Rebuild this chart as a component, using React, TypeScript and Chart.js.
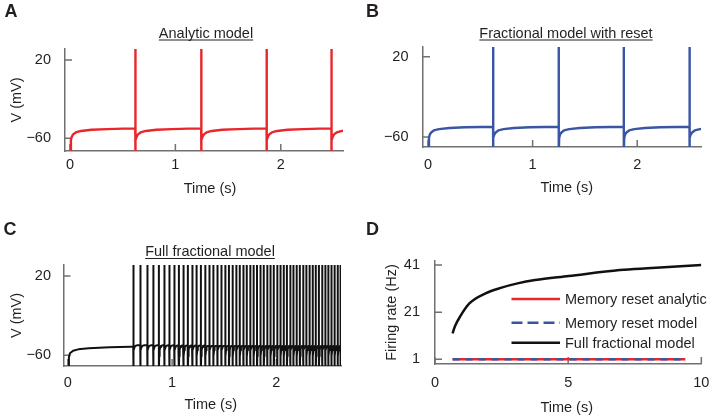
import React, { useEffect, useRef } from "react";
import { Chart, registerables } from "chart.js";

Chart.register(...registerables);

const FONT = "'Liberation Sans', Arial, Helvetica, sans-serif";
const FS = 14.5;
const TEXT = "#231f20";
const AXIS = "#707070";
const RED = "#e8262b";
const BLUE = "#3a55a4";
const BLACK = "#111111";

// ---------- Panels A / B ----------
const voltTicks = [-60, 20];
const timeTicks = [0, 1, 2];
const spikeTimesA = [0.62, 1.245, 1.865, 2.48];
const spikeTimesB = [0.622, 1.25, 1.872, 2.5];
// membrane recovery after each reset: time since reset (s) and voltage (mV)
const recoveryOffsets = [0, 0.004, 0.012, 0.025, 0.05, 0.1, 0.2, 0.35, 0.5, 0.7];
const recoveryVoltsA = [-76, -62, -58.5, -56, -54, -52.5, -51.3, -50.6, -50.1, -49.8];
const recoveryVoltsB = [-76, -61, -57.5, -55.5, -53.5, -52.2, -51, -50.3, -50, -49.7];
const SPIKE_PEAK = 45;

// ---------- Panel C ----------
const initialTimesC = [0.005, 0.01, 0.02, 0.05, 0.1, 0.2, 0.4, 0.6];
const initialVoltsC = [-76, -62, -58, -55.5, -54, -53, -52, -51.5];
const recoveryOffsetsC = [0, 0.003, 0.007, 0.012, 0.02, 0.04, 0.08];
const recoveryVoltsC = [-76, -61, -55, -52, -50.5, -49.8, -49.5];
const spikeTimesC = [
  0.627, 0.694, 0.761, 0.818, 0.873, 0.924, 0.972, 1.02, 1.065, 1.109, 1.151,
  1.193, 1.234, 1.276, 1.318, 1.356, 1.395, 1.433, 1.471, 1.51, 1.545, 1.58,
  1.614, 1.648, 1.682, 1.715, 1.748, 1.781, 1.814, 1.847, 1.879, 1.911, 1.943,
  1.975, 2.007, 2.039, 2.07, 2.101, 2.132, 2.163, 2.194, 2.225, 2.256, 2.287,
  2.318, 2.348, 2.378, 2.408, 2.438, 2.468, 2.498, 2.528, 2.558, 2.588, 2.615,
];

// ---------- Panel D ----------
const rateTicks = [1, 21, 41];
const longTimeTicks = [0, 5, 10];
const fullTimes = [0.66, 0.75, 0.94, 1.3, 1.9, 2.5, 3.1, 3.76, 5.02, 6.94, 8.14, 10];
const fullRates = [12, 15, 19.1, 24.8, 29, 31.4, 33.2, 34.6, 36.3, 38.9, 39.7, 41];
const resetTimes = [0.66, 9.4];
const analyticRates = [1, 1];
const modelRates = [1, 1];
const legendLabels = ["Memory reset analytic", "Memory reset model", "Full fractional model"];
const timeAxisTitle = "Time (s)";

type Pt = { x: number; y: number };

// Assemble a voltage trace: each segment (a recovery curve from the given
// start) is followed by a vertical spike at the next spike time.
function buildTrace(
  starts: number[],
  spikes: number[],
  offs: number[],
  volts: number[],
  end: number
) {
  const pts: Pt[] = [];
  for (let i = 0; i < starts.length; i++) {
    const s = starts[i];
    const next = i < spikes.length ? spikes[i] : end;
    let last = volts[0];
    for (let j = 0; j < offs.length; j++) {
      const t = s + offs[j];
      if (t >= next) break;
      pts.push({ x: t, y: volts[j] });
      last = volts[j];
    }
    if (i < spikes.length) {
      pts.push({ x: spikes[i], y: last });
      pts.push({ x: spikes[i], y: SPIKE_PEAK });
    }
  }
  return pts;
}

function zipPts(xs: number[], ys: number[]) {
  return xs.map((x, i) => ({ x, y: ys[i] }));
}

const fmtNum = (v: number) => (v < 0 ? "\u2212" + Math.abs(v) : String(v));

type Spec = {
  letter: string;
  letterPos: [number, number];
  title?: string;
  titlePos?: [number, number, number];
  xTitlePos: [number, number];
  area: { left: number; top: number; right: number; bottom: number };
  padLeft: number;
  xBoxBottom: number;
  xMin: number;
  xMax: number;
  yMin: number;
  yMax: number;
  xTicks: number[];
  yTicks: number[];
  xTickPad: number;
  yTickPad: number;
  yTitle?: string;
  yTitlePad: number;
  datasets: any[];
  legend?: { x1: number; x2: number; tx: number; ys: number[]; colors: string[]; dashes: number[][] };
};

function makeConfig(sp: Spec): any {
  const fontMain = { family: FONT, size: FS };
  const decor = {
    id: "decor",
    beforeDatasetsDraw(chart: any) {
      const { ctx, chartArea: a, scales } = chart;
      ctx.save();
      ctx.strokeStyle = AXIS;
      ctx.lineWidth = 1.5;
      ctx.beginPath();
      for (const v of sp.xTicks) {
        const px = scales.x.getPixelForValue(v);
        ctx.moveTo(px, a.bottom);
        ctx.lineTo(px, a.bottom - 7);
      }
      for (const v of sp.yTicks) {
        const py = scales.y.getPixelForValue(v);
        ctx.moveTo(a.left, py);
        ctx.lineTo(a.left + 7, py);
      }
      ctx.stroke();
      ctx.restore();
    },
    afterDraw(chart: any) {
      const { ctx } = chart;
      ctx.save();
      ctx.fillStyle = TEXT;
      ctx.textBaseline = "alphabetic";
      ctx.textAlign = "left";
      ctx.font = `bold 18px ${FONT}`;
      ctx.fillText(sp.letter, sp.letterPos[0], sp.letterPos[1]);
      ctx.font = `${FS}px ${FONT}`;
      // x-axis title
      ctx.textAlign = "center";
      ctx.textBaseline = "middle";
      ctx.fillText(timeAxisTitle, sp.xTitlePos[0], sp.xTitlePos[1]);
      ctx.textBaseline = "alphabetic";
      if (sp.title && sp.titlePos) {
        const [cx, by, uy] = sp.titlePos;
        ctx.fillText(sp.title, cx, by);
        const w = ctx.measureText(sp.title).width;
        ctx.strokeStyle = TEXT;
        ctx.lineWidth = 1;
        ctx.beginPath();
        ctx.moveTo(cx - w / 2, uy + 0.5);
        ctx.lineTo(cx + w / 2, uy + 0.5);
        ctx.stroke();
      }
      if (sp.legend) {
        const lg = sp.legend;
        ctx.textAlign = "left";
        ctx.textBaseline = "middle";
        lg.ys.forEach((yy, i) => {
          ctx.strokeStyle = lg.colors[i];
          ctx.lineWidth = 2.5;
          ctx.setLineDash(lg.dashes[i]);
          ctx.beginPath();
          ctx.moveTo(lg.x1, yy);
          ctx.lineTo(lg.x2, yy);
          ctx.stroke();
          ctx.setLineDash([]);
          ctx.fillStyle = TEXT;
          ctx.fillText(legendLabels[i], lg.tx, yy + 1);
        });
      }
      ctx.restore();
    },
  };
  return {
    type: "line",
    data: { datasets: sp.datasets },
    plugins: [decor],
    options: {
      animation: false,
      responsive: false,
      maintainAspectRatio: false,
      events: [],
      layout: {
        padding: {
          left: sp.padLeft,
          top: sp.area.top,
          right: 720 - sp.area.right,
          bottom: 420 - sp.xBoxBottom,
        },
      },
      plugins: { legend: { display: false }, tooltip: { enabled: false }, title: { display: false } },
      elements: { point: { radius: 0 }, line: { tension: 0 } },
      scales: {
        x: {
          type: "linear",
          position: "bottom",
          min: sp.xMin,
          max: sp.xMax,
          afterBuildTicks: (s: any) => {
            s.ticks = sp.xTicks.map((v) => ({ value: v }));
          },
          afterFit: (s: any) => {
            s.height = sp.xBoxBottom - sp.area.bottom;
          },
          grid: { display: true, drawOnChartArea: false, drawTicks: false },
          border: { display: true, color: AXIS, width: 1.5 },
          ticks: {
            padding: sp.xTickPad,
            font: fontMain,
            color: TEXT,
            maxRotation: 0,
            autoSkip: false,
            callback: (v: any) => fmtNum(Number(v)),
          },
          title: { display: false },
        },
        y: {
          type: "linear",
          position: "left",
          min: sp.yMin,
          max: sp.yMax,
          afterBuildTicks: (s: any) => {
            s.ticks = sp.yTicks.map((v) => ({ value: v }));
          },
          afterFit: (s: any) => {
            s.width = sp.area.left - sp.padLeft;
          },
          grid: { display: true, drawOnChartArea: false, drawTicks: false },
          border: { display: true, color: AXIS, width: 1.5 },
          ticks: {
            padding: sp.yTickPad,
            font: fontMain,
            color: TEXT,
            autoSkip: false,
            callback: (v: any) => fmtNum(Number(v)),
          },
          title: {
            display: !!sp.yTitle,
            text: sp.yTitle || "",
            font: fontMain,
            color: TEXT,
            padding: { top: sp.yTitlePad, bottom: 0 },
          },
        },
      },
    },
  };
}

const traceStyle = (color: string, width: number) => ({
  borderColor: color,
  borderWidth: width,
  pointRadius: 0,
  fill: false,
  borderJoinStyle: "round",
  tension: 0,
});

const specA: Spec = {
  letter: "A",
  letterPos: [4.5, 17],
  title: "Analytic model",
  titlePos: [206, 37.5, 39.5],
  xTitlePos: [210, 188.5],
  area: { left: 65, top: 49, right: 343, bottom: 151 },
  padLeft: 0,
  xBoxBottom: 200,
  xMin: -0.047,
  xMax: 2.59,
  yMin: -73,
  yMax: 31.3,
  xTicks: timeTicks,
  yTicks: voltTicks,
  xTickPad: 5,
  yTickPad: 14,
  yTitle: "V (mV)",
  yTitlePad: 8.3,
  datasets: [
    {
      ...traceStyle(RED, 2.4),
      data: buildTrace([0.005, ...spikeTimesA], spikeTimesA, recoveryOffsets, recoveryVoltsA, 2.8),
    },
  ],
};

const specB: Spec = {
  letter: "B",
  letterPos: [366, 17],
  title: "Fractional model with reset",
  titlePos: [566, 37.5, 39.5],
  xTitlePos: [566.7, 188.3],
  area: { left: 423, top: 47, right: 701, bottom: 147 },
  padLeft: 360,
  xBoxBottom: 200,
  xMin: -0.048,
  xMax: 2.61,
  yMin: -70,
  yMax: 29.7,
  xTicks: timeTicks,
  yTicks: voltTicks,
  xTickPad: 9.3,
  yTickPad: 14.5,
  yTitlePad: 0,
  datasets: [
    {
      ...traceStyle(BLUE, 2.4),
      data: buildTrace([0.005, ...spikeTimesB], spikeTimesB, recoveryOffsets, recoveryVoltsB, 2.8),
    },
  ],
};

const firstSpikeC = spikeTimesC[0];
const traceC: Pt[] = [
  ...zipPts(initialTimesC, initialVoltsC),
  { x: firstSpikeC, y: initialVoltsC[initialVoltsC.length - 1] },
  { x: firstSpikeC, y: SPIKE_PEAK },
  ...buildTrace(spikeTimesC, spikeTimesC.slice(1), recoveryOffsetsC, recoveryVoltsC, 2.8),
];

const specC: Spec = {
  letter: "C",
  letterPos: [3.5, 235],
  title: "Full fractional model",
  titlePos: [210, 256, 258],
  xTitlePos: [210.7, 405],
  area: { left: 63.5, top: 265, right: 341, bottom: 366 },
  padLeft: 0,
  xBoxBottom: 420,
  xMin: -0.042,
  xMax: 2.62,
  yMin: -70.8,
  yMax: 31.1,
  xTicks: timeTicks,
  yTicks: voltTicks,
  xTickPad: 8.6,
  yTickPad: 12.5,
  yTitle: "V (mV)",
  yTitlePad: 8.3,
  datasets: [{ ...traceStyle(BLACK, 2), data: traceC }],
};

const specD: Spec = {
  letter: "D",
  letterPos: [366, 235],
  xTitlePos: [566.7, 408.3],
  area: { left: 435, top: 261, right: 712, bottom: 364 },
  padLeft: 360,
  xBoxBottom: 420,
  xMin: 0,
  xMax: 10,
  yMin: -1,
  yMax: 42.7,
  xTicks: longTimeTicks,
  yTicks: rateTicks,
  xTickPad: 10.6,
  yTickPad: 15,
  yTitle: "Firing rate (Hz)",
  yTitlePad: 23,
  datasets: [
    {
      ...traceStyle(BLUE, 2.5),
      borderDash: [7, 6],
      data: zipPts(resetTimes, modelRates),
    },
    { ...traceStyle(RED, 2.5), data: zipPts(resetTimes, analyticRates) },
    {
      ...traceStyle(BLACK, 2.5),
      cubicInterpolationMode: "monotone",
      data: zipPts(fullTimes, fullRates),
    },
  ],
  legend: {
    x1: 511.5,
    x2: 560,
    tx: 565,
    ys: [299, 322.7, 342.7],
    colors: [RED, BLUE, BLACK],
    dashes: [[], [11, 5], []],
  },
};

function Panel({ spec }: { spec: Spec }) {
  const ref = useRef<HTMLCanvasElement | null>(null);
  useEffect(() => {
    if (!ref.current) return;
    const chart = new Chart(ref.current, makeConfig(spec));
    return () => chart.destroy();
  }, [spec]);
  return (
    <canvas
      ref={ref}
      width={720}
      height={420}
      style={{ position: "absolute", left: 0, top: 0, width: 720, height: 420 }}
    />
  );
}

export default function App() {
  return (
    <div
      style={{
        position: "absolute",
        left: 0,
        top: 0,
        width: 720,
        height: 420,
        background: "#ffffff",
        overflow: "hidden",
      }}
    >
      <Panel spec={specA} />
      <Panel spec={specB} />
      <Panel spec={specC} />
      <Panel spec={specD} />
    </div>
  );
}
